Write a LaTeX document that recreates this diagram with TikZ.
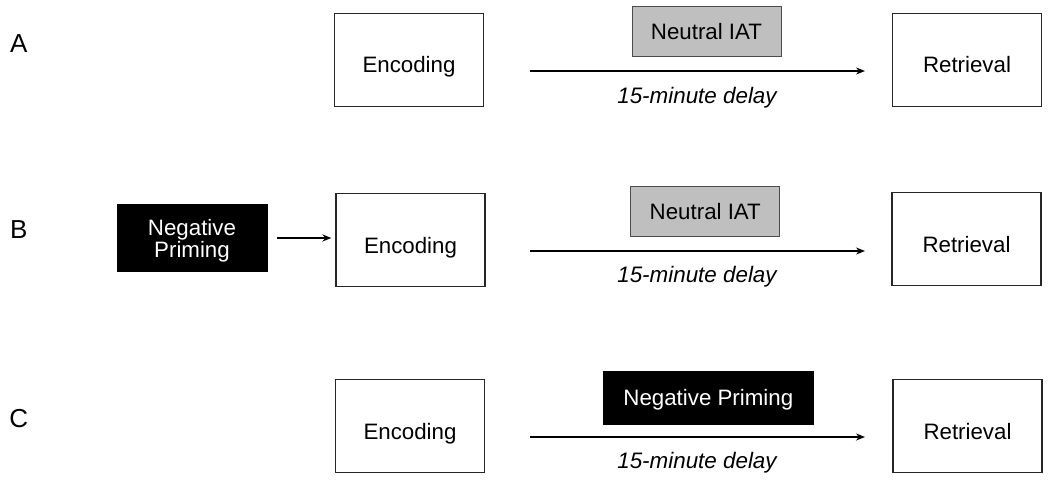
\documentclass[tikz,border=0pt]{standalone}
\usepackage{fontspec}
\setmainfont{Liberation Sans}
\usetikzlibrary{arrows.meta}
\begin{document}
\begin{tikzpicture}[x=1pt,y=-1pt,
  txt/.style={font=\fontsize{22.3}{22}\selectfont},
  stagebox/.style={txt,draw=black!85,line width=1.2pt,fill=white,minimum width=149pt,minimum height=93pt,inner sep=0pt,text height=26pt,text depth=0pt},
  iatbox/.style={txt,draw=black!70,line width=1pt,fill=black!25,minimum width=149pt,minimum height=50pt,inner sep=0pt,text height=16pt,text depth=0pt},
  primebox/.style={txt,draw=black,fill=black,text=white,inner sep=0pt},
  primetext/.style={font=\fontsize{22.3}{22.5}\selectfont,text=white,align=center,inner sep=0pt},
  delay/.style={font=\fontsize{22.4}{25}\selectfont\itshape,text height=16pt,text depth=0pt,inner sep=0pt},
  rowlabel/.style={font=\fontsize{26}{28}\selectfont,text height=18.6pt,text depth=0pt,inner sep=0pt},
  arr/.style={line width=1.6pt,-{Stealth[length=9pt,width=7pt]}}]
\useasboundingbox (0,0) rectangle (1050,484);
% Row A
\node[rowlabel] (la) at (18.8,43.5) {A};
\node[stagebox] (encA) at (409,59.7) {Encoding};
\node[stagebox] (retA) at (967,59.7) {Retrieval};
\node[iatbox] (iatA) at (706.5,31.7) {Neutral IAT};
\coordinate (sA) at (530,71);
\coordinate (eA) at (865,71);
\draw[arr] (sA) -- (eA);
\node[delay] (dA) at (697,95.3) {15-minute delay};
% Row B
\node[rowlabel] (lb) at (18.8,229) {B};
\node[primebox,minimum width=150pt,minimum height=67pt,
  label={[primetext,yshift=-2.5pt]center:Negative\\Priming}] (negB) at (192,238) {};
\node[stagebox] (encB) at (410.5,240) {Encoding};
\node[stagebox] (retB) at (966.5,239.3) {Retrieval};
\node[iatbox] (iatB) at (705.3,211.7) {Neutral IAT};
\draw[arr,shorten <=10pt,shorten >=4pt] (negB.east) -- (encB.west |- negB.east);
\coordinate (sB) at (530,251);
\coordinate (eB) at (865,251);
\draw[arr] (sB) -- (eB);
\node[delay] (dB) at (697,274) {15-minute delay};
% Row C
\node[rowlabel] (lc) at (18.8,418) {C};
\node[stagebox] (encC) at (410,426) {Encoding};
\node[stagebox] (retC) at (967.5,426) {Retrieval};
\node[primebox,minimum width=210pt,minimum height=53pt,text height=16pt,text depth=0pt] (negC) at (708.3,397.5) {Negative Priming};
\coordinate (sC) at (530,437);
\coordinate (eC) at (865,437);
\draw[arr] (sC) -- (eC);
\node[delay] (dC) at (697,460.3) {15-minute delay};
\end{tikzpicture}
\end{document}
